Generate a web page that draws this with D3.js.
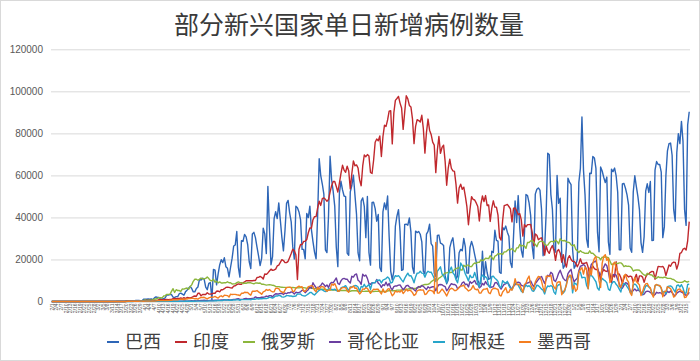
<!DOCTYPE html>
<html>
<head>
<meta charset="utf-8">
<script src="https://cdn.jsdelivr.net/npm/d3@7"></script>
<style>
  body { margin: 0; background: #fff; }
  svg { display: block; font-family: "Liberation Sans", Arial, sans-serif; }
</style>
</head>
<body>
<div id="chart"></div>
<script>
// daily new cases, in thousands, 2020-02-01 .. 2021-03-17 (one row per month)
const brazil = [
  0,0,0,0,0,0,0,0,0,0, 0,0,0,0,0,0,0,0,0,0, 0,0,0,0,0,0,0,0,0,
  0,0,0,0,0,0,0,0,0,0, 0,0,0,0.1,0.1,0.1,0.1,0.1,0.2,0.3, 0.3,0.2,0.4,0.3,0.2,0.5,0.5,0.5,0.4,0.3, 1.1,
  1.1,1.1,1.2,1.1,1.2,0.9,1.7,2.2,1.9,1.9, 1.1,1.2,1.3,1.8,3.1,3.1,3.3,3.3,2.1,1.9, 2.3,2.3,3.7,4.0,3.5,3.0,4.6,5.4,6.3,7.2,
  6.2,4.6,4.6,6.2,6.9,10.5,10.2,11.1,10.6,6.8, 5.6,8.6,9.0,1.0,15.3,14.9,7.9,13.1,17.4,19.9, 18.5,20.8,16.5,15.8,11.7,16.3,20.6,26.4,26.9,33.3, 16.4,
  11.6,28.9,28.6,31.9,30.8,27.1,18.9,15.7,32.1,32.9, 30.4,25.9,21.7,17.1,20.6,34.9,32.2,22.8,54.8,34.7, 17.5,21.4,39.4,42.7,39.5,46.9,38.7,30.5,24.1,33.8,
  46.7,48.1,42.2,37.9,26.1,20.2,45.3,44.6,42.6,39.0, 24.8,24.8,20.3,41.9,39.9,45.4,34.2,28.5,23.5,20.3, 41.0,67.9,59.9,55.9,51.1,24.6,23.3,40.8,69.1,57.8, 52.4,
  45.4,25.8,16.6,51.6,57.2,53.1,50.2,49.9,23.0,22.0, 52.2,55.2,60.1,50.6,41.6,23.1,19.4,47.8,49.3,45.3, 30.4,50.0,23.4,17.3,47.1,47.2,44.2,38.2,41.4,16.2, 14.3,
  42.7,46.9,43.7,50.2,30.8,14.5,10.3,14.3,35.8,40.6, 43.7,33.5,14.8,15.2,36.7,36.8,36.3,39.8,33.1,16.4, 13.4,33.5,32.8,33.3,32.0,28.4,14.3,13.2,32.1,33.4,
  36.8,27.5,26.3,13.4,11.9,31.4,31.6,27.8,27.4,26.7, 12.3,8.4,10.2,25.6,28.5,30.3,24.1,10.9,12.0,23.2, 24.8,24.1,30.0,26.0,13.5,13.5,25.7,28.6,26.1,22.3, 18.9,
  10.1,8.5,8.5,23.9,10.5,18.9,13.8,10.6,10.9,23.9, 23.3,33.9,29.1,28.7,13.9,13.4,35.3,34.1,35.9,33.0, 31.1,18.6,16.2,31.1,47.9,37.6,50.4,35.2,24.5,21.1,
  31.9,50.9,50.4,46.9,41.0,26.3,20.4,51.1,53.4,54.0, 53.0,43.9,21.8,25.1,42.4,70.6,69.8,51.0,43.9,25.0, 23.5,60.0,46.7,49.2,22.4,15.8,17.3,25.6,58.7,56.8, 55.6,
  24.6,15.8,17.3,20.0,56.6,63.4,87.8,62.4,50.6,29.7, 25.8,61.0,60.9,69.0,68.3,63.3,33.0,23.7,64.0,62.1, 59.1,56.6,59.2,28.3,22.4,63.0,61.8,63.5,59.8,52.0, 24.6,
  24.6,55.9,56.2,53.9,50.7,45.9,25.4,23.4,52.1,59.8, 54.7,49.9,43.6,27.9,23.4,30.9,52.5,56.0,51.9,57.1, 29.0,29.1,62.5,66.6,65.2,65.2,61.6,30.4,
  35.5,59.9,71.7,75.1,75.4,69.6,43.8,38.2,70.8,79.9, 75.1,85.7,76.2,43.8,36.2,84.0,90.3
];
const india = [
  0,0,0,0,0,0,0,0,0,0, 0,0,0,0,0,0,0,0,0,0, 0,0,0,0,0,0,0,0,0,
  0,0,0,0,0,0,0,0,0,0, 0,0,0,0,0,0,0,0,0,0.1, 0.1,0.1,0.1,0.1,0.1,0.1,0.1,0.2,0.1,0.2, 0.3,
  0.4,0.6,0.5,0.6,0.5,0.5,0.6,0.5,0.6,0.9, 0.9,0.9,0.8,1.0,1.0,0.9,1.0,1.0,1.3,1.5, 1.3,1.4,1.4,1.7,1.4,1.8,1.4,1.9,1.8,1.7,
  1.9,2.4,2.6,2.5,3.9,3.9,2.7,3.3,3.3,3.3, 4.2,3.6,3.5,3.7,3.9,3.9,4.9,5.0,4.6,5.6, 5.6,6.1,6.7,6.8,6.7,6.5,6.4,7.3,7.5,8.0, 8.4,
  8.2,8.2,8.9,9.3,9.9,9.9,9.9,9.9,9.9,10.0, 10.0,11.4,11.5,11.9,11.5,10.7,13.1,12.9,13.6,14.5, 15.4,14.8,15.0,15.4,16.9,17.3,18.6,19.9,19.5,18.5,
  18.5,19.1,20.9,22.8,24.9,24.2,22.3,10.5,24.9,27.1, 27.1,28.6,28.7,29.5,32.7,35.0,34.9,38.9,40.4,40.4, 44.5,47.7,45.7,48.9,49.3,48.6,47.7,48.5,52.1,55.1, 57.1,
  57.1,54.7,52.1,56.3,61.0,64.8,62.5,61.5,64.4,62.1, 53.6,60.9,66.9,64.6,65.0,63.5,57.9,55.1,64.5,69.7, 68.9,69.9,69.2,61.4,60.9,67.2,75.8,77.3,76.5,78.8, 69.0,
  78.4,83.9,83.3,86.4,90.6,90.8,75.0,89.7,95.7,96.6, 97.6,94.4,92.1,81.9,90.1,97.9,96.4,93.3,92.6,86.9, 75.1,83.3,86.5,86.1,85.4,88.6,82.2,70.6,80.5,86.8,
  81.5,79.5,75.8,74.4,61.3,72.0,78.5,70.5,73.3,74.4, 66.7,55.3,63.5,67.7,63.4,62.2,61.9,55.7,46.8,54.0, 55.8,53.4,54.4,50.1,45.1,36.5,43.9,49.9,48.6,48.3, 46.9,
  45.2,38.3,46.3,50.2,47.6,50.4,45.7,45.9,38.1,44.3, 47.9,44.9,44.9,41.1,30.5,29.2,38.6,45.6,45.9,46.2, 45.2,44.1,37.9,44.4,44.5,43.1,41.3,41.8,38.8,31.1,
  36.6,35.5,36.6,36.6,36.7,32.9,26.6,32.1,31.5,29.4, 30.0,30.3,27.1,22.1,26.4,24.0,22.9,25.2,26.6,24.3, 19.6,23.9,24.7,23.1,18.7,22.3,18.7,16.4,20.5,21.8, 20.0,
  19.1,19.1,18.2,16.5,18.1,20.3,18.1,18.1,18.2,18.6, 16.3,12.6,15.9,16.9,15.6,15.2,15.1,13.8,10.1,13.8, 15.2,14.5,14.3,14.8,13.2,9.1,12.7,11.7,18.9,13.1, 13.1,
  11.4,8.6,11.0,12.9,12.4,11.7,12.1,11.8,9.1,11.1, 12.9,9.3,12.2,12.2,11.6,9.1,11.6,12.9,13.2,13.9, 14.3,14.2,10.6,13.7,16.7,16.6,16.5,16.7,
  15.5,12.3,14.9,17.4,16.8,18.3,18.7,18.6,15.4,17.9, 22.9,23.3,24.9,25.3,24.5,28.9,38.0
];
const russia = [
  0,0,0,0,0,0,0,0,0,0, 0,0,0,0,0,0,0,0,0,0, 0,0,0,0,0,0,0,0,0,
  0,0,0,0,0,0,0,0,0,0, 0,0,0,0,0,0,0,0,0,0.1, 0.1,0.1,0.1,0.1,0.2,0.2,0.2,0.2,0.3,0.3, 0.5,
  0.8,0.4,0.6,0.6,0.6,0.7,1.2,1.2,1.5,1.8, 1.8,1.7,2.6,2.8,3.4,3.4,3.4,4.8,6.1,4.3, 5.6,5.2,5.2,4.8,6.0,5.9,6.2,6.4,5.8,7.1,
  7.9,9.6,10.6,10.6,10.1,10.6,11.2,10.7,10.8,11.0, 11.7,10.9,10.0,9.9,10.6,9.2,9.7,8.9,9.3,8.8, 8.8,9.0,8.9,9.4,8.9,8.9,8.3,8.4,8.4,9.0, 9.3,
  9.0,9.0,8.5,8.8,8.7,8.9,8.9,8.9,8.6,8.4, 8.8,8.8,8.7,8.8,8.2,8.2,8.0,7.8,7.9,8.0, 7.9,7.7,7.6,7.2,7.1,7.1,6.9,6.8,6.7,6.7,
  6.6,6.7,6.8,6.6,6.7,6.6,6.4,6.6,6.5,6.6, 6.6,6.6,6.5,6.2,6.4,6.4,6.4,6.2,6.1,6.1, 5.8,5.8,5.8,5.8,5.8,5.8,5.6,5.4,5.5,5.5, 5.5,
  5.5,5.4,5.4,5.2,5.2,5.2,5.2,5.2,5.1,4.9, 4.9,5.1,5.1,5.1,5.1,4.9,4.8,4.8,4.8,4.8, 4.9,4.9,4.9,4.9,4.7,4.7,4.8,4.8,4.9,4.9, 4.7,
  4.7,4.7,4.9,5.0,5.2,5.2,5.1,5.1,5.2,5.4, 5.4,5.4,5.5,5.5,5.7,5.7,5.9,6.1,6.1,6.1, 6.2,6.2,6.4,6.6,7.2,7.5,7.9,8.1,8.1,8.2,
  8.5,9.4,9.9,10.5,10.9,10.1,11.1,11.5,12.1,12.8, 13.6,13.6,13.9,13.8,13.8,14.2,15.2,15.7,15.9,16.3, 15.0,15.0,17.3,16.5,17.3,17.3,16.6,16.6,17.7,18.3, 18.1,
  18.7,18.6,19.8,19.4,19.8,20.6,20.5,20.4,21.8,21.0, 19.9,21.6,21.9,22.8,22.6,22.8,22.4,23.6,23.6,24.3, 24.8,24.6,25.2,24.3,23.7,25.5,25.5,27.1,26.3,26.7,
  26.4,25.3,28.1,28.1,28.8,29.0,28.1,27.2,26.1,27.9, 28.6,28.6,28.5,27.3,26.7,26.8,27.9,28.6,28.6,28.2, 29.3,28.6,27.4,29.9,29.0,28.9,29.0,28.4,28.2,28.0, 27.0,
  26.5,27.0,24.8,24.2,23.3,24.2,23.5,23.3,22.9,23.0, 22.9,24.1,22.9,23.0,22.2,21.4,21.1,20.9,19.8,21.1, 21.0,21.2,21.1,20.9,19.3,17.6,17.7,18.0,18.3,18.0, 18.4,
  18.4,17.8,16.6,17.0,16.7,16.8,16.6,15.9,14.5,14.9, 15.0,15.0,14.9,14.1,13.2,12.7,12.3,13.4,13.0,12.7, 12.6,11.8,11.5,11.0,11.8,11.4,11.5,11.3,
  11.6,11.4,11.0,11.0,11.0,10.6,10.5,9.9,9.3,9.1, 9.1,9.1,9.3,9.9,9.4,9.3,9.6
];
const colombia = [
  0,0,0,0,0,0,0,0,0,0, 0,0,0,0,0,0,0,0,0,0, 0,0,0,0,0,0,0,0,0,
  0,0,0,0,0,0,0,0,0,0, 0,0,0,0,0,0,0,0,0,0.1, 0.1,0.1,0.1,0.1,0.1,0.1,0.1,0.1,0.1,0.1, 0.1,
  0.1,0.1,0.1,0.1,0.1,0.1,0.1,0.1,0.2,0.1, 0.1,0.2,0.1,0.1,0.2,0.1,0.2,0.1,0.2,0.1, 0.2,0.2,0.2,0.2,0.2,0.3,0.3,0.2,0.3,0.3,
  0.4,0.3,0.4,0.3,0.4,0.4,0.5,0.5,0.6,0.5, 0.5,0.4,0.5,0.6,0.5,0.6,0.6,0.6,0.6,0.7, 0.8,0.9,0.7,0.8,0.8,0.7,0.9,1.0,1.0,1.2, 1.3,
  1.0,1.0,1.1,1.3,1.5,1.2,1.3,1.3,1.5,1.6, 2.2,1.8,1.8,1.8,2.0,2.0,2.2,2.6,2.3,2.8, 2.8,2.2,3.1,3.7,3.6,3.6,3.8,3.9,3.3,4.0,
  3.7,4.2,4.1,4.6,4.3,3.6,4.4,4.2,4.3,4.6, 5.3,5.3,4.2,5.0,5.6,7.0,6.3,8.9,7.6,6.6, 6.5,7.0,7.6,8.8,8.1,7.1,7.9,6.6,8.4,9.1, 8.9,
  10.1,11.2,8.6,8.1,9.8,10.8,11.0,10.6,10.6,9.5, 8.8,12.0,11.6,12.8,13.1,10.1,9.5,8.1,13.0,12.1, 12.6,11.0,8.5,8.2,8.9,9.0,8.9,10.5,8.7,8.1, 6.7,
  8.0,7.6,9.2,7.5,8.6,6.5,5.6,7.1,7.4,7.4, 7.8,7.9,6.7,5.6,6.4,7.5,7.7,6.9,6.5,6.4, 5.6,5.0,6.6,7.1,6.8,7.6,7.2,6.4,5.7,7.0,
  6.4,6.8,7.0,7.0,5.1,6.9,8.0,8.1,8.0,7.4, 7.1,5.1,6.0,7.4,8.5,8.1,8.1,7.7,6.1,6.7, 7.4,8.9,9.3,8.0,8.3,6.9,9.5,8.7,9.3,10.0, 8.3,
  8.3,6.5,7.1,8.6,7.9,9.5,8.2,7.8,6.6,6.9, 7.0,8.8,9.1,8.1,7.0,5.9,7.2,8.2,8.4,9.2, 8.2,6.7,6.0,7.3,8.0,9.0,9.2,9.0,7.7,7.4,
  7.2,8.7,8.8,9.1,9.8,8.3,7.1,8.5,9.5,10.5, 11.4,11.9,10.2,8.6,10.5,12.5,12.0,13.9,13.2,10.1, 9.5,11.3,13.4,14.9,12.8,11.0,10.2,9.8,13.3,14.4, 15.3,
  11.6,9.3,10.4,11.1,14.6,16.8,17.0,17.6,16.9,15.1, 11.0,14.5,17.6,18.4,18.9,19.3,16.2,13.3,12.6,15.3, 16.3,17.9,17.0,14.0,10.1,11.6,12.8,12.9,12.5,10.4, 8.6,
  6.4,6.3,7.7,8.9,8.7,7.8,5.1,4.7,5.2,6.0, 5.1,5.5,5.0,4.2,3.2,3.5,4.6,4.9,4.8,4.3, 3.7,2.7,3.3,4.4,4.0,4.2,4.0,3.2,
  2.7,3.5,4.9,4.3,5.0,4.2,3.2,2.8,3.9,4.5, 4.9,4.5,4.1,3.4,2.9,3.3,4.4
];
const argentina = [
  0,0,0,0,0,0,0,0,0,0, 0,0,0,0,0,0,0,0,0,0, 0,0,0,0,0,0,0,0,0,
  0,0,0,0,0,0,0,0,0,0, 0,0,0,0,0,0,0,0,0,0, 0,0,0.1,0,0.1,0.1,0.1,0.1,0.1,0.1, 0.1,
  0.1,0.1,0.1,0.1,0.1,0.1,0.1,0.1,0.1,0.1, 0.1,0.1,0.1,0.1,0.1,0.1,0.1,0.1,0.1,0.1, 0.1,0.1,0.1,0.2,0.2,0.1,0.1,0.1,0.1,0.2,
  0.1,0.2,0.1,0.2,0.2,0.2,0.2,0.2,0.2,0.2, 0.2,0.3,0.3,0.3,0.3,0.4,0.3,0.5,0.4,0.4, 0.5,0.7,0.7,0.7,0.5,0.7,0.6,0.8,0.7,0.8, 0.8,
  0.6,0.9,0.9,0.9,0.9,0.9,1.0,0.8,1.1,1.1, 1.1,1.4,1.2,1.3,1.3,1.4,1.4,1.4,1.6,2.1, 1.9,1.6,2.1,2.6,2.6,2.9,2.8,2.2,2.1,2.3,
  2.8,2.8,2.6,2.6,2.4,2.5,2.6,3.6,3.5,3.6, 2.9,2.7,2.6,3.1,3.6,4.3,4.3,3.5,3.1,3.9, 4.6,5.3,5.8,5.5,5.1,4.7,4.8,6.1,6.0,5.8, 5.6,
  5.9,5.3,4.8,5.1,6.5,6.8,7.1,7.5,6.4,5.1, 6.9,7.0,7.2,7.6,7.5,6.9,4.9,7.2,6.8,8.2, 6.7,7.4,8.1,5.8,8.7,9.0,9.0,10.1,10.1,10.2, 8.8,
  10.2,10.5,10.9,11.7,10.9,8.8,9.1,10.9,12.3,11.9, 12.3,11.4,10.3,9.3,11.0,12.3,13.5,12.2,12.3,10.9, 8.9,11.7,13.5,13.5,14.4,13.5,13.4,11.6,13.5,14.4,
  13.9,14.0,12.6,10.9,9.5,14.4,15.4,16.5,13.1,12.4, 10.6,9.0,13.0,14.9,16.4,13.6,12.7,10.4,8.9,12.9, 18.3,17.1,15.5,13.1,11.6,9.8,12.5,11.4,11.5,13.8, 11.5,
  8.5,6.9,11.1,12.6,11.7,11.8,10.9,7.4,6.8,11.9, 12.0,11.1,10.5,9.6,7.0,6.6,9.9,9.1,8.7,9.6, 7.6,6.4,5.6,7.6,8.6,8.5,7.8,6.4,4.9,4.3,
  6.6,7.9,7.1,7.5,6.8,5.1,4.9,6.2,7.8,7.5, 6.8,5.9,5.4,3.6,6.1,7.4,7.1,7.6,7.1,4.5, 3.5,7.2,8.0,8.2,5.2,4.0,5.1,8.4,11.2,11.8, 11.7,
  4.1,8.9,8.4,7.8,13.8,14.0,11.3,11.5,11.5,7.6, 6.1,12.0,12.5,11.7,10.5,9.4,6.4,5.4,9.3,11.0, 10.3,9.8,8.9,5.9,5.3,8.3,9.4,9.4,8.2,7.3, 5.9,
  4.5,7.8,8.6,8.3,7.1,6.0,4.5,3.5,7.7,8.3, 7.7,6.4,5.2,4.4,3.4,5.3,7.4,7.6,6.9,6.2, 4.1,3.7,7.4,8.0,7.8,7.4,6.2,4.3,
  4.8,3.6,7.1,7.3,7.4,6.9,5.6,4.4,7.5,7.9, 6.9,8.0,6.4,3.9,4.0,8.1,8.3
];
const mexico = [
  0,0,0,0,0,0,0,0,0,0, 0,0,0,0,0,0,0,0,0,0, 0,0,0,0,0,0,0,0,0,
  0,0,0,0,0,0,0,0,0,0, 0,0,0,0,0,0,0,0,0,0, 0.1,0.1,0.1,0.1,0.1,0.1,0.1,0.1,0.2,0.2, 0.1,
  0.2,0.2,0.2,0.2,0.2,0.3,0.2,0.3,0.4,0.4, 0.4,0.4,0.4,0.4,0.5,0.4,0.6,0.6,0.8,0.8, 0.8,0.8,1.0,1.0,1.2,0.9,1.2,1.2,1.4,1.4,
  1.5,1.5,1.3,1.4,1.1,1.6,1.9,1.9,2.0,1.6, 1.3,1.7,2.0,2.0,2.1,2.4,2.0,1.6,2.4,2.7, 2.2,3.0,2.9,2.8,2.1,3.5,3.3,3.4,3.4,3.2, 3.1,
  2.8,3.9,3.9,4.4,4.3,4.3,3.5,3.0,4.9,4.9, 4.9,5.2,4.6,4.1,3.4,4.6,4.9,5.7,5.3,5.7, 5.0,4.6,4.6,6.3,6.3,6.1,4.9,4.6,4.1,5.4,
  6.7,6.7,6.7,6.7,4.7,4.9,6.3,6.9,7.3,6.9, 7.0,4.9,4.9,5.9,7.1,7.3,7.6,7.2,5.3,4.6, 6.8,5.9,7.0,7.1,6.8,5.6,4.9,5.5,5.4,8.4, 7.7,
  8.5,6.9,4.8,5.0,6.1,6.6,6.6,6.6,5.1,4.4, 6.8,6.6,7.4,6.3,6.4,4.8,3.6,4.4,6.0,5.8, 6.5,6.2,5.0,3.9,5.0,5.8,5.7,5.8,5.8,4.6, 3.6,
  6.0,4.4,4.5,5.9,6.1,4.4,2.7,3.5,5.0,4.5, 4.8,4.5,5.4,3.8,4.7,5.9,5.0,5.4,5.1,4.2, 2.9,3.4,5.1,5.4,5.6,5.4,5.5,3.3,3.6,4.8,
  5.4,5.2,4.9,3.7,28.1,4.0,4.0,4.9,5.9,5.1, 4.0,2.6,4.3,5.8,6.3,6.0,5.2,5.2,5.8,6.8, 7.3,7.4,7.8,6.4,5.8,5.0,5.4,6.1,7.6,6.0, 5.6,
  5.9,4.0,4.0,5.3,5.9,5.9,6.3,4.2,3.7,5.6, 6.2,6.3,6.0,5.7,3.0,2.6,4.5,5.4,6.6,4.2, 4.4,6.0,5.4,7.0,10.8,8.1,8.2,7.9,6.2,4.3,
  8.1,8.7,10.8,12.1,8.1,6.6,5.6,9.3,10.8,11.9, 11.7,9.7,6.6,4.6,12.0,12.1,11.9,12.5,8.5,6.9, 5.9,9.0,9.4,9.3,3.2,4.6,5.7,7.7,11.2,12.5, 12.4,
  5.9,7.5,4.9,5.9,13.9,15.2,16.1,13.0,16.4,15.0, 6.1,15.9,12.6,18.3,20.5,21.4,15.5,9.8,6.7,18.1, 21.4,22.3,19.6,20.6,9.0,10.7,17.9,18.7,16.0,14.4, 7.2,
  6.8,9.0,12.2,12.9,10.3,9.2,4.2,2.9,9.0,11.4, 9.5,8.7,7.9,2.8,4.7,7.1,8.4,8.6,7.1,6.5, 3.6,2.1,7.7,8.1,7.6,7.6,6.6,2.2,
  4.8,4.8,7.0,6.6,6.1,4.6,2.1,2.7,5.0,5.8, 6.0,4.8,4.9,1.9,2.1,3.6,6.6
];

const seriesNames = ["巴西", "印度", "俄罗斯", "哥伦比亚", "阿根廷", "墨西哥"];
const seriesData = [brazil, india, russia, colombia, argentina, mexico];
const colors = ["#2e66b7", "#c0282d", "#8cb63c", "#6b3fa0", "#27a5ca", "#f47e20"];
const yTicks = [0, 20000, 40000, 60000, 80000, 100000, 120000];
const firstDay = new Date(2020, 1, 1);
const lastDay = new Date(2021, 2, 17);
const labelStep = 3;

const W = 700, H = 361;
const plotL = 51, plotR = 690, plotT = 49.3, plotB = 301.5;

const dates = d3.timeDay.range(firstDay, d3.timeDay.offset(lastDay, 1));
const fmt = d => (d.getMonth() + 1) + "/" + d.getDate();

const svg = d3.select("#chart").append("svg")
    .attr("width", W)
    .attr("height", H);

svg.append("rect")
    .attr("x", 0.5).attr("y", 0.5)
    .attr("width", W - 1).attr("height", H - 1)
    .attr("fill", "#fff")
    .attr("stroke", "#d9d9d9");

// title
svg.append("text")
    .attr("x", 349).attr("y", 34)
    .attr("text-anchor", "middle")
    .style("font-family", "'Noto Sans CJK SC', sans-serif")
    .style("font-size", "25px")
    .attr("fill", "#3a3a3a")
    .text("部分新兴国家单日新增病例数量");

const x = d3.scaleBand()
    .domain(d3.range(dates.length))
    .range([plotL, plotR]);
const xc = i => x(i) + x.bandwidth() / 2;

const y = d3.scaleLinear()
    .domain([0, 120000])
    .range([plotB, plotT]);

// y axis + gridlines
const yAxis = svg.append("g")
    .attr("transform", "translate(" + plotL + ",0)")
    .call(d3.axisLeft(y).tickValues(yTicks).tickSize(-(plotR - plotL)).tickPadding(8).tickFormat(d3.format("d")));
yAxis.select(".domain").remove();
yAxis.selectAll("line").attr("stroke", "#d9d9d9");
yAxis.selectAll("text")
    .attr("fill", "#595959")
    .style("font-size", "10px")
    .style("font-family", "'Liberation Sans', Arial, sans-serif");

// x axis, one label every 3 days
const xAxis = svg.append("g")
    .attr("transform", "translate(0," + plotB + ")")
    .call(d3.axisBottom(x)
        .tickValues(d3.range(0, dates.length, labelStep))
        .tickSize(0)
        .tickFormat(i => fmt(dates[i])));
xAxis.select(".domain").attr("stroke", "#d9d9d9");
xAxis.selectAll("text")
    .attr("fill", "#595959")
    .style("font-size", "5px")
    .attr("text-anchor", "end")
    .attr("dy", "0.35em")
    .attr("transform", "translate(0,2) rotate(-90)")
    .attr("x", 0).attr("y", 0);

// lines
const line = d3.line()
    .x((d, i) => xc(i))
    .y(d => y(d * 1000));

svg.append("g").selectAll("path")
    .data(seriesData)
    .enter()
    .append("path")
    .attr("d", d => line(d))
    .attr("fill", "none")
    .attr("stroke", (d, i) => colors[i])
    .attr("stroke-width", 1.4)
    .attr("stroke-linejoin", "round");

// legend
const legend = svg.append("g").attr("transform", "translate(0,342)");
const gap = 14;
let lx = 0;
seriesNames.forEach((name, i) => {
    const g = legend.append("g").attr("transform", "translate(" + lx + ",0)");
    g.append("line")
        .attr("x1", 0).attr("x2", 12)
        .attr("y1", 0).attr("y2", 0)
        .attr("stroke", colors[i])
        .attr("stroke-width", 2);
    const t = g.append("text")
        .attr("x", 18).attr("y", 0)
        .attr("dy", "0.36em")
        .style("font-family", "'Noto Sans CJK SC', sans-serif")
        .style("font-size", "18px")
        .attr("fill", "#404040")
        .text(name);
    lx += 18 + t.node().getComputedTextLength() + gap;
});
const legendW = lx - gap;
legend.attr("transform", "translate(" + (349 - legendW / 2) + ",342)");
</script>
</body>
</html>
